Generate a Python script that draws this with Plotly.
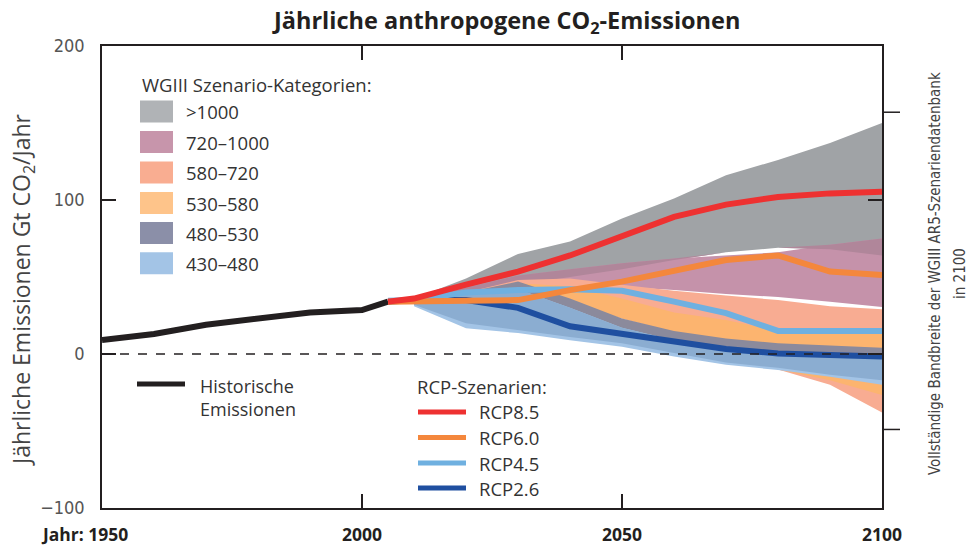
import numpy as np
import plotly.graph_objects as go

# ---------------- data ----------------
hist_years = [1950, 1960, 1970, 1980, 1990, 2000, 2005]
hist_vals = [9, 13, 19, 23, 27, 28.5, 34]

rcp_years = [2005, 2010, 2020, 2030, 2040, 2050, 2060, 2070, 2080, 2090, 2100]
rcp85 = [34, 36, 45, 53.5, 64, 76, 89, 97, 102, 104.3, 105.4]
rcp60 = [34, 34, 34.5, 35, 41.5, 47, 54, 61, 64, 53.5, 51.3]
rcp45 = [34.5, 35, 40, 41.5, 42, 41, 34, 26.6, 15, 15, 15]
rcp26 = [34, 35, 35, 30, 18, 13, 8.6, 3.2, 0.4, -0.6, -1.7]

band_years = [2010, 2020, 2030, 2040, 2050, 2060, 2070, 2080, 2090, 2100]
cat_gt1000_lo = [34, 40, 45, 50, 55, 61, 66, 69, 68, 64]
cat_gt1000_hi = [36, 49, 65, 73, 88, 101, 116, 126, 137, 150]
cat_720_1000_lo = [34, 37, 40, 42, 43.5, 41.5, 39, 37, 34, 30.5]
cat_720_1000_hi = [35, 43, 51, 55, 59, 62, 64, 66, 71, 75]
cat_580_720_lo = [33, 34, 36, 34, 23, 14, 9, -10, -20, -38]
cat_580_720_hi = [35, 40, 48, 49, 45, 41, 38, 35, 31, 29]
cat_530_580_lo = [33, 35, 38, 34, 23, 14.5, 9, -10, -17, -26.6]
cat_530_580_hi = [35, 38, 46, 44, 36, 27, 22, 15, 14, 13.5]
cat_480_530_lo = [32, 20, 15.6, 11, 7, 0.6, -5.6, -9, -13.5, -17]
cat_480_530_hi = [35, 40, 47, 36, 23, 15, 10, 7, 5.5, 4]
cat_430_480_lo = [31, 16.7, 13.6, 9, 4.7, -1.7, -7, -10.4, -14.7, -20]
cat_430_480_hi = [35, 40, 42, 30, 17, 9, 4, 1.5, 0.5, 0]

full_range_2100 = [-49, 157]

cat_labels = [">1000", "720\u20131000", "580\u2013720", "530\u2013580", "480\u2013530", "430\u2013480"]
rcp_labels = ["RCP8.5", "RCP6.0", "RCP4.5", "RCP2.6"]
x_tickvals = [2000, 2050, 2100]
y_tickvals = [-100, 0, 100, 200]

# ---------------- styles ----------------
C_GRAY, C_PINK, C_SALMON = "#a0a3a6", "#c592aa", "#f8ac92"
C_ORANGE, C_GP, C_LB = "#fcb46f", "#8b8a9c", "#a3c4e6"
C_MAUVE, C_MB = "#b0869a", "#8badd1"
LEG_COLORS = ["#b0b3b6", "#c795ab", "#f9ad91", "#fec48a", "#8b8fa8", "#a3c4e6"]
RCP_COLORS = ["#ee3131", "#f4873c", "#6fb0e0", "#1f4fa0"]
BLACK = "#231f20"
TXT = "#333333"
SANS = "Open Sans, Noto Sans, sans-serif"
NARROW = "Liberation Sans Narrow, DejaVu Sans Condensed, sans-serif"

fig = go.Figure()


def band(lo, hi, color):
    x = list(band_years) + list(band_years)[::-1]
    y = list(hi) + list(lo)[::-1]
    fig.add_trace(go.Scatter(x=x, y=y, fill="toself", fillcolor=color,
                             line=dict(width=0), mode="lines", hoverinfo="skip",
                             showlegend=False))


def overlap(lo1, hi1, lo2, hi2, color):
    lo = np.maximum(lo1, lo2)
    hi = np.minimum(hi1, hi2)
    hi = np.maximum(hi, lo)
    band(lo, hi, color)


band(cat_gt1000_lo, cat_gt1000_hi, C_GRAY)
band(cat_720_1000_lo, cat_720_1000_hi, C_PINK)
overlap(cat_gt1000_lo, cat_gt1000_hi, cat_720_1000_lo, cat_720_1000_hi, C_MAUVE)
band(cat_580_720_lo, cat_580_720_hi, C_SALMON)
band(cat_530_580_lo, cat_530_580_hi, C_ORANGE)
band(cat_480_530_lo, cat_480_530_hi, C_GP)
band(cat_430_480_lo, cat_430_480_hi, C_LB)
overlap(cat_480_530_lo, cat_480_530_hi, cat_430_480_lo, cat_430_480_hi, C_MB)

fig.add_trace(go.Scatter(x=hist_years, y=hist_vals, mode="lines",
                         line=dict(color=BLACK, width=6), showlegend=False))
for vals, col in [(rcp26, RCP_COLORS[3]), (rcp45, RCP_COLORS[2]),
                  (rcp60, RCP_COLORS[1]), (rcp85, RCP_COLORS[0])]:
    fig.add_trace(go.Scatter(x=rcp_years, y=vals, mode="lines",
                             line=dict(color=col, width=6), showlegend=False))

# ---------------- layout ----------------
L, R, T, B = 102, 90, 46, 38
W, H = 972, 546
PW, PH = W - L - R, H - T - B


def px(xp):
    return (xp - L) / PW


def py(yp):
    return (H - B - yp) / PH


shapes = []
annotations = []

# zero line
shapes.append(dict(type="line", xref="paper", yref="y", x0=0, x1=1, y0=0, y1=0,
                   line=dict(color=BLACK, width=1.5, dash="dash"), layer="above"))
# right outer ticks (full range in 2100)
for v in full_range_2100:
    shapes.append(dict(type="line", xref="paper", yref="y", x0=1, x1=1 + 18 / PW,
                       y0=v, y1=v, line=dict(color=BLACK, width=1.5)))

LEG_SIZE = 18.5
# legend: categories
annotations.append(dict(text="WGIII Szenario-Kategorien:", xref="paper", yref="paper",
                        x=px(140), y=py(85), xanchor="left", yanchor="middle",
                        showarrow=False, font=dict(family=SANS, size=LEG_SIZE, color=TXT)))
row_y = [111.5, 142, 172.5, 203, 233, 263.3]
for lab, col, yy in zip(cat_labels, LEG_COLORS, row_y):
    shapes.append(dict(type="rect", xref="paper", yref="paper",
                       x0=px(140), x1=px(173), y0=py(yy - 11), y1=py(yy + 11),
                       fillcolor=col, line=dict(width=0)))
    annotations.append(dict(text=lab, xref="paper", yref="paper", x=px(184), y=py(yy),
                            xanchor="left", yanchor="middle", showarrow=False,
                            font=dict(family=SANS, size=LEG_SIZE, color=TXT)))

# legend: historic
shapes.append(dict(type="line", xref="paper", yref="paper", x0=px(137), x1=px(185),
                   y0=py(384), y1=py(384), line=dict(color=BLACK, width=5)))
annotations.append(dict(text="Historische<br>Emissionen", xref="paper", yref="paper",
                        x=px(198), y=py(372), xanchor="left", yanchor="top", align="left",
                        showarrow=False, font=dict(family=SANS, size=18, color=TXT)))
# legend: RCP
annotations.append(dict(text="RCP-Szenarien:", xref="paper", yref="paper",
                        x=px(415), y=py(386), xanchor="left", yanchor="middle",
                        showarrow=False, font=dict(family=SANS, size=LEG_SIZE, color=TXT)))
for lab, col, yy in zip(rcp_labels, RCP_COLORS, [412, 437.5, 463, 488]):
    shapes.append(dict(type="line", xref="paper", yref="paper", x0=px(418), x1=px(466),
                       y0=py(yy), y1=py(yy), line=dict(color=col, width=5)))
    annotations.append(dict(text=lab, xref="paper", yref="paper", x=px(477), y=py(yy),
                            xanchor="left", yanchor="middle", showarrow=False,
                            font=dict(family=SANS, size=LEG_SIZE, color=TXT)))

# title
annotations.append(dict(text="<b>Jährliche anthropogene CO<sub>2</sub>-Emissionen</b>",
                        xref="paper", yref="paper", x=px(506), y=py(22),
                        xanchor="center", yanchor="middle", showarrow=False,
                        font=dict(family=SANS, size=23.5, color=BLACK)))
# y title
annotations.append(dict(text="Jährliche Emissionen Gt CO<sub>2</sub>/Jahr",
                        xref="paper", yref="paper", x=px(22), y=py(290), textangle=-90,
                        xanchor="center", yanchor="middle", showarrow=False,
                        font=dict(family=SANS, size=23, color="#444444")))
# right label
annotations.append(dict(text="Vollständige Bandbreite der WGIII AR5-Szenariendatenbank",
                        xref="paper", yref="paper", x=px(935), y=py(274), textangle=-90,
                        xanchor="center", yanchor="middle", showarrow=False,
                        font=dict(family=NARROW, size=15, color="#444444")))
annotations.append(dict(text="in 2100",
                        xref="paper", yref="paper", x=px(960), y=py(274), textangle=-90,
                        xanchor="center", yanchor="middle", showarrow=False,
                        font=dict(family=NARROW, size=15, color="#444444")))
# first x label
annotations.append(dict(text="<b>Jahr: 1950</b>", xref="x", yref="paper", x=1950,
                        y=py(534), xanchor="right", yanchor="middle", xshift=28,
                        showarrow=False, font=dict(family=SANS, size=17.5, color=BLACK)))

fig.update_layout(
    width=W, height=H, margin=dict(l=L, r=R, t=T, b=B, autoexpand=False),
    paper_bgcolor="white", plot_bgcolor="white", showlegend=False,
    shapes=shapes, annotations=annotations,
    xaxis=dict(range=[1950, 2100], tickvals=x_tickvals,
               ticktext=["<b>%d</b>" % v for v in x_tickvals],
               ticks="inside", ticklen=14, tickwidth=1.5, tickcolor=BLACK,
               showline=True, linecolor=BLACK, linewidth=1.5, mirror="ticks",
               showgrid=False, zeroline=False, ticklabelstandoff=10, automargin=False,
               tickfont=dict(family=SANS, size=17.5, color=BLACK)),
    yaxis=dict(range=[-100, 200], tickvals=y_tickvals,
               ticktext=["\u2212100", "0", "100", "200"],
               ticks="inside", ticklen=14, tickwidth=1.5, tickcolor=BLACK,
               showline=True, linecolor=BLACK, linewidth=1.5, mirror="ticks",
               showgrid=False, zeroline=False, ticklabelstandoff=12, automargin=False,
               tickfont=dict(family=NARROW, size=18, color="#555555")),
)

fig.write_html("out.html", config={"displayModeBar": False},
               post_script="document.body.style.margin='0px';")
